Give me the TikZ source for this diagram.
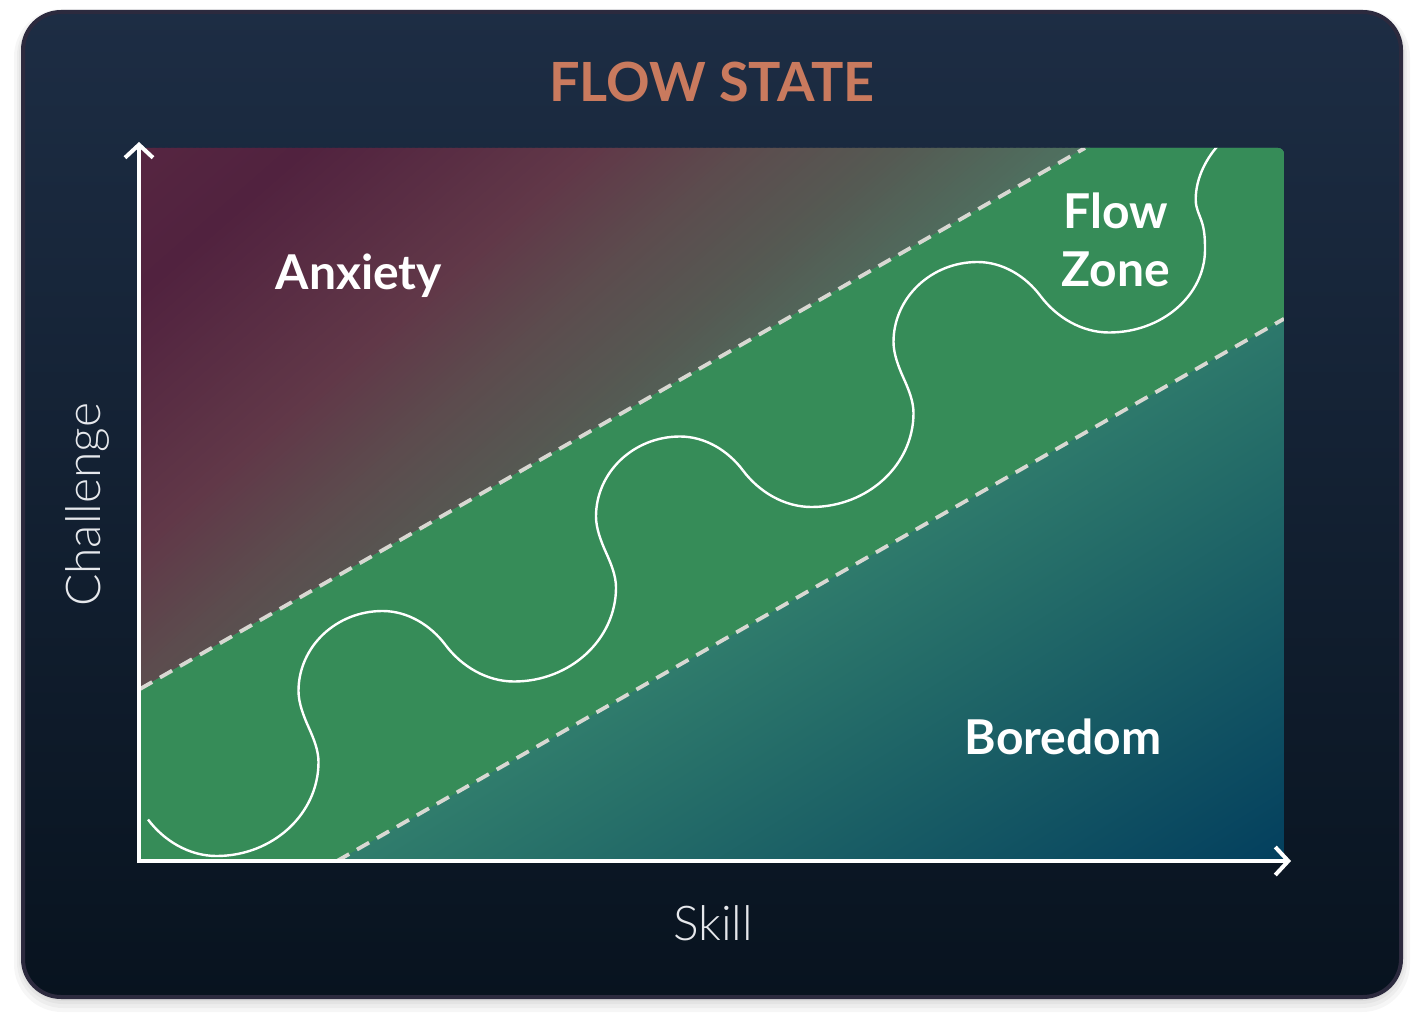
\documentclass[tikz,border=0pt]{standalone}
\usepackage{fontspec}
\setmainfont{Lato}
\newfontfamily\latolight{Lato Light}
\usetikzlibrary{arrows.meta,shadings}
\definecolor{cardtop}{HTML}{1D2D44}
\definecolor{cardmid}{HTML}{0F1C2C}
\definecolor{cardbot}{HTML}{08131F}
\definecolor{cardborder}{HTML}{2C2A3E}
\definecolor{titlecol}{HTML}{C97A5E}
\definecolor{bandgreen}{HTML}{368C58}
\definecolor{anx0}{HTML}{562641}
\definecolor{anx1}{HTML}{51223F}
\definecolor{anx2}{HTML}{613848}
\definecolor{anx3}{HTML}{5C4C4E}
\definecolor{anx4}{HTML}{555A53}
\definecolor{anx5}{HTML}{4E7160}
\definecolor{anx6}{HTML}{4A7C62}
\definecolor{borA}{RGB}{113,213,129}
\definecolor{borM}{RGB}{58,138,111}
\definecolor{borB}{RGB}{3,63,94}
\definecolor{dashcol}{HTML}{D8D8D2}
\definecolor{axistext}{HTML}{E6E8EC}
\tikzset{
  axisline/.style={draw=white, line width=2pt, -{Straight Barb[length=6.5pt,width=14pt]}},
  dashline/.style={draw=dashcol, line width=1.9pt, dash pattern=on 7pt off 4.5pt},
  waveline/.style={draw=white, line width=1.2pt},
  zonelabel/.style={text=white, font=\bfseries\fontsize{24}{29}\selectfont, inner sep=0pt},
  axislabel/.style={text=axistext, font=\latolight\fontsize{24}{29}\selectfont, inner sep=0pt},
  titlelabel/.style={text=titlecol, font=\bfseries\fontsize{27}{32}\selectfont, inner sep=0pt},
  shadowlayer/.style={fill=black, opacity=0.035},
}
\begin{document}
\begin{tikzpicture}[x=0.5pt,y=-0.5pt]
\useasboundingbox (0,0) rectangle (1424,1032);
\fill[white] (0,0) rectangle (1424,1032);
% soft shadow
\fill[shadowlayer, rounded corners=24pt] (14,9) rectangle (1410,1012);
\fill[shadowlayer, rounded corners=23pt] (17,10) rectangle (1407,1008);
\fill[shadowlayer, rounded corners=22pt] (19,11) rectangle (1405,1004);
\fill[shadowlayer, rounded corners=21pt] (21,11) rectangle (1403,1001);
% card
\shade[top color=cardtop, middle color=cardmid, bottom color=cardbot, rounded corners=20pt] (22,11) rectangle (1402,998);
\draw[cardborder, line width=2pt, rounded corners=19pt] (23,12) rectangle (1401,997);

% key coordinates
\coordinate (P1) at (140,148);
\coordinate (P2) at (1284,861);
\coordinate (u1) at (140,689);
\coordinate (u2) at (1085,148);
\coordinate (l1) at (337,861);
\coordinate (l2) at (1284,318.8);

% plot area
\begin{scope}
\clip[rounded corners=3pt] (P1) rectangle (P2);
% anxiety: directional gradient drawn as thin overlapping strips
\begin{scope}
\clip (P1) -- (1090,148) -- (140,695) -- cycle;
\begin{scope}[shift={(140,148)}, rotate=-48.9]
\fill[anx0] (-50,-1500) rectangle (2,1500);
\foreach \pa/\pb/\ca/\cb in {0/110/anx0/anx1, 110/300/anx1/anx2, 300/400/anx2/anx3, 400/500/anx3/anx4, 500/620/anx4/anx5, 620/720/anx5/anx6} {
  \pgfmathtruncatemacro\nsteps{(\pb-\pa)/4}
  \pgfmathsetmacro\dstep{(\pb-\pa)/\nsteps}
  \foreach \j in {1,...,\nsteps} {
    \pgfmathsetmacro\tmix{(\j-0.5)/\nsteps*100}
    \pgfmathsetmacro\xa{\pa+(\j-1)*\dstep}
    \pgfmathsetmacro\xb{\xa+\dstep+2}
    \fill[color=\cb!\tmix!\ca] (\xa,-1500) rectangle (\xb,1500);
  }
}
\end{scope}
\end{scope}
% boredom
\begin{scope}
\clip (u1) -- (u2) -- (1284,148) -- (P2) -- (140,861) -- cycle;
\shade[upper left=borA, upper right=borM, lower left=borM, lower right=borB] (P1) rectangle (P2);
\end{scope}
\fill[bandgreen] (u1) -- (u2) -- (1284,148) -- (l2) -- (l1) -- (140,861) -- cycle;
\draw[dashline] (u1) -- (u2);
\draw[dashline] (l1) -- (l2);
% wave
\foreach \k in {0,1,2} {
  \draw[waveline, shift={(216.5+297.5*\k,856-174.5*\k)}]
    (-68.5,-36.5) .. controls (-52.3,-14.9) and (-27,0) .. (0,0)
    .. controls (56.3,0) and (102,-42.1) .. (102,-94)
    .. controls (102,-106) and (96.9,-118.1) .. (92,-129)
    .. controls (87.1,-139.9) and (82,-153) .. (82,-165)
    .. controls (82,-209.2) and (119.6,-245) .. (166,-245)
    .. controls (191,-245) and (214,-231) .. (229,-211);
}
\draw[waveline, shift={(1109,332.5)}]
    (-68.5,-36.5) .. controls (-52.3,-14.9) and (-27,0) .. (0,0)
    .. controls (53,0) and (96,-37.2) .. (96,-83)
    .. controls (96,-92) and (95.7,-101.5) .. (93,-110)
    .. controls (90.3,-118.6) and (86.7,-123.7) .. (86.7,-133)
    .. controls (86.7,-155) and (98,-176) .. (112,-190);
\end{scope}

% axes
\coordinate (O) at (139,861);
\coordinate (ytip) at (139,142);
\coordinate (xtip) at (1291,861);
\draw[axisline] ([yshift=-1pt]O) -- (ytip);
\draw[axisline] ([xshift=-1pt]O) -- (xtip);

% labels
\node[titlelabel, anchor=base] (title) at (712,102) {FLOW STATE};
\node[zonelabel, anchor=base] (anxiety) at (359,290) {Anxiety};
\node[zonelabel, align=center, anchor=center] (flowzone) at (1116,240) {Flow\\Zone};
\node[zonelabel, anchor=base] (boredom) at (1063,754) {Boredom};
\node[axislabel, anchor=base] (skill) at (713,940) {Skill};
\node[axislabel, anchor=base, rotate=90] (challenge) at (100,505) {Challenge};
\end{tikzpicture}
\end{document}
